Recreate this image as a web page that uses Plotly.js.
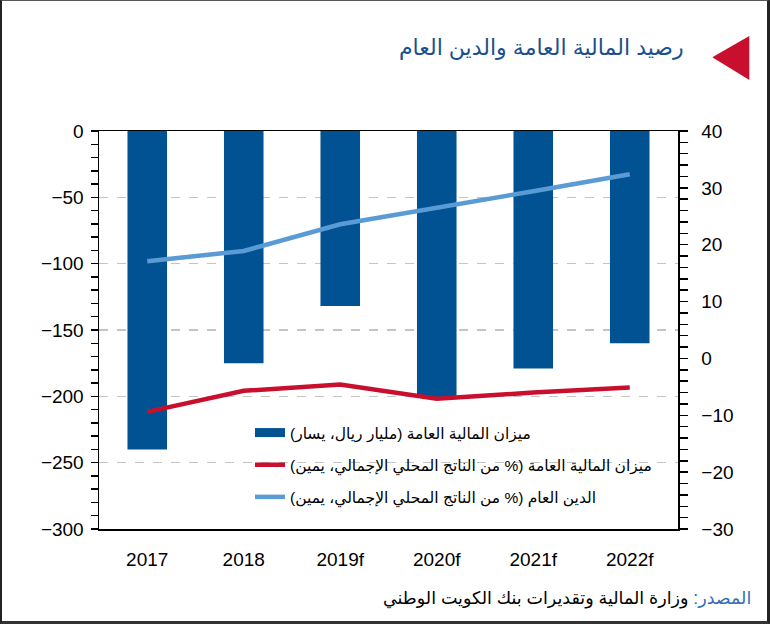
<!DOCTYPE html>
<html>
<head>
<meta charset="utf-8">
<script src="https://cdn.plot.ly/plotly-3.0.1.min.js"></script>
<style>
  html, body { margin: 0; padding: 0; background: #fff; }
  #wrap { position: relative; width: 770px; height: 624px; }
  #chart { position: absolute; left: 0; top: 0; width: 770px; height: 624px; }
  #frame { position: absolute; left: 0; top: 0; width: 770px; height: 624px; box-sizing: border-box;
           border-left: 2px solid #222; border-top: 1px solid #555; border-right: 3px solid #222; border-bottom: 3px solid #333;
           pointer-events: none; }
</style>
</head>
<body>
<div id="wrap">
  <div id="chart"></div>
  <div id="frame"></div>
</div>
<script>
// ---- Data ----
const years = ["2017", "2018", "2019f", "2020f", "2021f", "2022f"];
const fiscalBalanceKD = [-240, -175, -132, -201, -179, -160];      // مليار ريال، يسار
const fiscalBalancePctGDP = [-9.4, -5.7, -4.6, -7.1, -6.0, -5.1];  // % من الناتج، يمين
const publicDebtPctGDP = [17.1, 18.9, 23.6, 26.4, 29.4, 32.4];     // % من الناتج، يمين

const seriesNames = [
  "ميزان المالية العامة (مليار ريال، يسار)",
  "ميزان المالية العامة (% من الناتج المحلي الإجمالي، يمين)",
  "الدين العام (% من الناتج المحلي الإجمالي، يمين)"
];
const titleText = "رصيد المالية العامة والدين العام";
const sourceLabel = "المصدر:";
const sourceText = "وزارة المالية وتقديرات بنك الكويت الوطني";

// ---- Styles ----
const BAR = "#005293";
const RED = "#C8102E";
const LBLUE = "#5B9BD5";
const FONT = "Liberation Sans, Arial, DejaVu Sans, sans-serif";

// plot area in pixels
const L = 99, R = 678, T = 131, B = 529;
const W = 770, H = 624;
const px = x => (x - L) / (R - L);
const py = y => (B - y) / (B - T);

const traces = [
  {
    type: "bar", x: years, y: fiscalBalanceKD, yaxis: "y",
    marker: { color: BAR }, showlegend: false, hoverinfo: "x+y"
  },
  {
    // legend proxy for the bar series (long bar symbol)
    type: "scatter", mode: "lines", x: years, y: years.map(() => null), yaxis: "y",
    name: seriesNames[0], legendgroup: "a", line: { color: BAR, width: 9 }, hoverinfo: "skip"
  },
  {
    type: "scatter", mode: "lines", x: years, y: fiscalBalancePctGDP, yaxis: "y2",
    name: seriesNames[1], legendgroup: "b", line: { color: RED, width: 4.5 }
  },
  {
    type: "scatter", mode: "lines", x: years, y: publicDebtPctGDP, yaxis: "y2",
    name: seriesNames[2], legendgroup: "c", line: { color: LBLUE, width: 4.5 }
  }
];

const layout = {
  width: W, height: H,
  margin: { l: L, r: W - R, t: T, b: H - B, pad: 0 },
  paper_bgcolor: "#fff", plot_bgcolor: "#fff",
  font: { family: FONT, size: 19, color: "#000" },
  bargap: 0.59,
  xaxis: {
    type: "category", range: [-0.5, 5.5],
    showline: true, linecolor: "#000", linewidth: 1.5, mirror: true,
    ticks: "", showgrid: false, zeroline: false,
    tickfont: { family: FONT, size: 19, color: "#000" },
    ticklabelstandoff: 13
  },
  yaxis: {
    range: [-300, 0], dtick: 50, tick0: 0,
    showline: true, linecolor: "#000", linewidth: 1.5,
    ticks: "outside", ticklen: 7, tickwidth: 1.5, tickcolor: "#000",
    minor: { dtick: 10, ticks: "outside", ticklen: 7, tickwidth: 1.5, tickcolor: "#000", showgrid: false },
    showgrid: true, gridcolor: "#c4c4c4", gridwidth: 1.2, griddash: "dash",
    zeroline: false,
    tickfont: { family: FONT, size: 19, color: "#000" },
    ticklabelstandoff: 3
  },
  yaxis2: {
    range: [-30, 40], dtick: 10, tick0: 0,
    overlaying: "y", side: "right",
    showline: true, linecolor: "#000", linewidth: 1.5,
    ticks: "outside", ticklen: 8, tickwidth: 1.5, tickcolor: "#000",
    minor: { dtick: 2, ticks: "outside", ticklen: 8, tickwidth: 1.5, tickcolor: "#000", showgrid: false },
    showgrid: false, zeroline: false,
    tickfont: { family: FONT, size: 19, color: "#000" },
    ticklabelstandoff: 10
  },
  legend: {
    x: px(250), y: py(416), xanchor: "left", yanchor: "top",
    bgcolor: "rgba(0,0,0,0)", borderwidth: 0,
    traceorder: "grouped", tracegroupgap: 9,
    font: { family: FONT, size: 15.5, color: "#000" }
  },
  shapes: [
    {
      type: "path", xref: "paper", yref: "paper",
      path: `M ${px(712.3)} ${py(57.3)} L ${px(749.3)} ${py(36)} L ${px(749.3)} ${py(80)} Z`,
      fillcolor: RED, line: { width: 0 }
    }
  ],
  annotations: [
    {
      xref: "paper", yref: "paper", x: px(686), y: py(48),
      xanchor: "right", yanchor: "middle", showarrow: false,
      text: titleText,
      font: { family: FONT, size: 22, color: "#1B4F8C" }
    },
    {
      xref: "paper", yref: "paper", x: px(753), y: py(598),
      xanchor: "right", yanchor: "middle", showarrow: false,
      text: `<span style="color:#2F6EB5">${sourceLabel}</span> ${sourceText}`,
      font: { family: FONT, size: 17.5, color: "#000" }
    }
  ]
};

Plotly.newPlot("chart", traces, layout, { displayModeBar: false, staticPlot: true });
</script>
</body>
</html>
